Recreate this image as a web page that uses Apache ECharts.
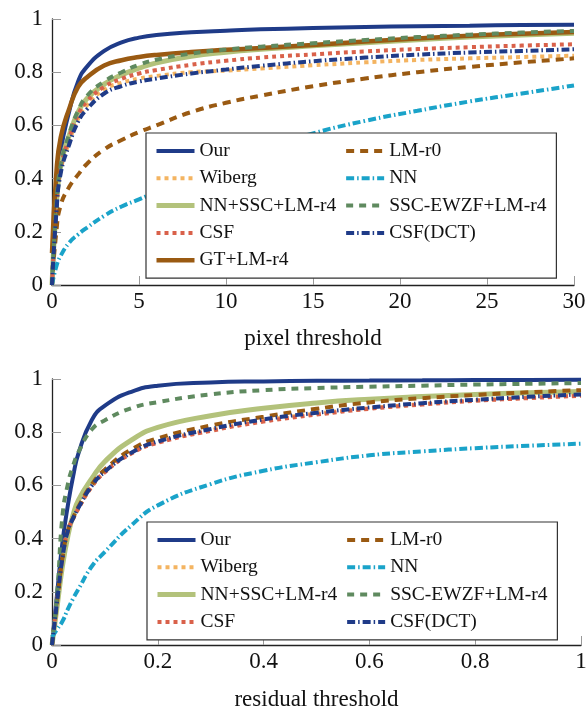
<!DOCTYPE html>
<html><head><meta charset="utf-8">
<script src="https://cdn.jsdelivr.net/npm/echarts@6/dist/echarts.min.js"></script>
<style>html,body{margin:0;padding:0;background:#fff}#c{width:586px;height:710px}</style>
</head><body><div id="c"></div>
<script>
// ---------- data: top chart (pixel threshold) ----------
const pixelX = [0, 0.25, 0.5, 1, 1.5, 2, 3, 4, 5, 6, 8, 10, 12, 15, 18, 21, 24, 27, 30];
const pixOur      = [0, 0.30, 0.50, 0.655, 0.765, 0.82, 0.88, 0.912, 0.93, 0.94, 0.95, 0.956, 0.961, 0.966, 0.97, 0.973, 0.975, 0.977, 0.978];
const pixWiberg   = [0, 0.28, 0.43, 0.54, 0.625, 0.675, 0.735, 0.76, 0.776, 0.786, 0.80, 0.806, 0.814, 0.826, 0.837, 0.846, 0.852, 0.857, 0.862];
const pixNNSSC    = [0, 0.30, 0.45, 0.565, 0.65, 0.70, 0.755, 0.79, 0.815, 0.835, 0.86, 0.875, 0.886, 0.899, 0.911, 0.922, 0.932, 0.94, 0.946];
const pixCSF      = [0, 0.29, 0.44, 0.555, 0.64, 0.69, 0.745, 0.775, 0.795, 0.808, 0.828, 0.843, 0.855, 0.867, 0.878, 0.887, 0.894, 0.90, 0.905];
const pixGT       = [0.12, 0.42, 0.555, 0.665, 0.745, 0.78, 0.825, 0.845, 0.857, 0.865, 0.876, 0.884, 0.891, 0.902, 0.915, 0.927, 0.937, 0.945, 0.951];
const pixLMr0     = [0, 0.20, 0.30, 0.37, 0.415, 0.455, 0.51, 0.545, 0.575, 0.60, 0.65, 0.685, 0.712, 0.747, 0.776, 0.80, 0.82, 0.837, 0.852];
const pixNN       = [0, 0.07, 0.11, 0.16, 0.19, 0.215, 0.26, 0.295, 0.322, 0.35, 0.41, 0.46, 0.51, 0.57, 0.617, 0.655, 0.69, 0.72, 0.75];
const pixSSCEWZF  = [0, 0.30, 0.45, 0.57, 0.655, 0.71, 0.765, 0.80, 0.828, 0.847, 0.87, 0.885, 0.896, 0.909, 0.921, 0.932, 0.941, 0.949, 0.955];
const pixCSFDCT   = [0, 0.27, 0.42, 0.53, 0.614, 0.66, 0.72, 0.748, 0.765, 0.776, 0.795, 0.81, 0.824, 0.841, 0.855, 0.866, 0.874, 0.88, 0.886];

// ---------- data: bottom chart (residual threshold) ----------
const resX = [0, 0.01, 0.02, 0.03, 0.04, 0.05, 0.075, 0.1, 0.15, 0.2, 0.3, 0.4, 0.5, 0.6, 0.7, 0.8, 0.9, 1.0];
const resOur     = [0, 0.20, 0.39, 0.525, 0.635, 0.72, 0.845, 0.90, 0.952, 0.975, 0.987, 0.991, 0.993, 0.994, 0.995, 0.996, 0.996, 0.997];
const resWiberg  = [0, 0.17, 0.33, 0.43, 0.475, 0.514, 0.595, 0.651, 0.722, 0.763, 0.808, 0.844, 0.87, 0.89, 0.906, 0.92, 0.93, 0.94];
const resNNSSC   = [0, 0.15, 0.30, 0.41, 0.49, 0.545, 0.625, 0.69, 0.77, 0.818, 0.862, 0.89, 0.91, 0.924, 0.934, 0.942, 0.948, 0.953];
const resCSF     = [0, 0.17, 0.33, 0.43, 0.475, 0.514, 0.595, 0.65, 0.72, 0.76, 0.805, 0.84, 0.866, 0.888, 0.904, 0.918, 0.928, 0.937];
const resLMr0    = [0, 0.17, 0.33, 0.43, 0.478, 0.52, 0.603, 0.66, 0.735, 0.777, 0.825, 0.858, 0.888, 0.912, 0.928, 0.94, 0.95, 0.958];
const resNN      = [0.03, 0.06, 0.09, 0.135, 0.175, 0.21, 0.295, 0.35, 0.45, 0.525, 0.605, 0.655, 0.687, 0.713, 0.728, 0.74, 0.749, 0.757];
const resSSCEWZF = [0, 0.20, 0.49, 0.605, 0.675, 0.725, 0.81, 0.845, 0.89, 0.913, 0.942, 0.958, 0.966, 0.971, 0.975, 0.979, 0.982, 0.985];
const resCSFDCT  = [0, 0.17, 0.33, 0.43, 0.477, 0.516, 0.598, 0.652, 0.723, 0.765, 0.812, 0.848, 0.873, 0.893, 0.909, 0.922, 0.933, 0.942];

const yTicks = [0, 0.2, 0.4, 0.6, 0.8, 1];

// ---------- styles ----------
const FONT = '"Liberation Serif", "DejaVu Serif", serif';
const styles = {
  'Our':            {color: '#1f3b88', width: 4,   type: 'solid'},
  'Wiberg':         {color: '#f4b461', width: 4,   type: [4, 4]},
  'NN+SSC+LM-r4':   {color: '#b3c27b', width: 5,   type: 'solid'},
  'CSF':            {color: '#d9614a', width: 4,   type: [4, 4]},
  'GT+LM-r4':       {color: '#9a5a12', width: 4.5, type: 'solid'},
  'LM-r0':          {color: '#9a5a12', width: 4,   type: [8, 6]},
  'NN':             {color: '#1aa3c9', width: 4,   type: [8, 3, 1.5, 3]},
  'SSC-EWZF+LM-r4': {color: '#5f8a5f', width: 4,   type: [7, 6]},
  'CSF(DCT)':       {color: '#1f3b88', width: 4,   type: [8, 3, 1.5, 3]}
};

function mk(name, xs, ys, idx) {
  const s = styles[name];
  return {
    name: name, type: 'line', xAxisIndex: idx, yAxisIndex: idx,
    data: xs.map((x, i) => [x, ys[i]]),
    symbol: 'none', showSymbol: false, smooth: 0.5,
    lineStyle: {color: s.color, width: s.width, type: s.type, cap: 'butt'},
    itemStyle: {color: s.color},
    emphasis: {disabled: true}, silent: true
  };
}

const topNames = ['Our', 'Wiberg', 'NN+SSC+LM-r4', 'CSF', 'GT+LM-r4', 'LM-r0', 'NN', 'SSC-EWZF+LM-r4', 'CSF(DCT)'];
const botNames = ['Our', 'Wiberg', 'NN+SSC+LM-r4', 'CSF', 'LM-r0', 'NN', 'SSC-EWZF+LM-r4', 'CSF(DCT)'];
const topData = {'Our': pixOur, 'Wiberg': pixWiberg, 'NN+SSC+LM-r4': pixNNSSC, 'CSF': pixCSF, 'GT+LM-r4': pixGT,
  'LM-r0': pixLMr0, 'NN': pixNN, 'SSC-EWZF+LM-r4': pixSSCEWZF, 'CSF(DCT)': pixCSFDCT};
const botData = {'Our': resOur, 'Wiberg': resWiberg, 'NN+SSC+LM-r4': resNNSSC, 'CSF': resCSF,
  'LM-r0': resLMr0, 'NN': resNN, 'SSC-EWZF+LM-r4': resSSCEWZF, 'CSF(DCT)': resCSFDCT};

const series = [];
topNames.forEach(n => series.push(mk(n, pixelX, topData[n], 0)));
botNames.forEach(n => series.push(mk(n, resX, botData[n], 1)));

function xAxis(idx, max, interval, name, gap) {
  return {
    type: 'value', gridIndex: idx, min: 0, max: max, interval: interval,
    name: name, nameLocation: 'middle', nameGap: gap,
    nameTextStyle: {fontFamily: FONT, fontSize: 23, color: '#111'},
    axisLine: {show: true, onZero: false, lineStyle: {color: '#222', width: 1.3}},
    axisTick: {show: true, inside: true, length: 9, lineStyle: {color: '#999', width: 1}},
    axisLabel: {fontFamily: FONT, fontSize: 23, color: '#111', margin: 5},
    splitLine: {show: false}
  };
}
function yAxis(idx) {
  return {
    type: 'value', gridIndex: idx, min: yTicks[0], max: yTicks[yTicks.length - 1], interval: 0.2,
    axisLine: {show: true, onZero: false, lineStyle: {color: '#222', width: 1.3}},
    axisTick: {show: true, inside: true, length: 9, lineStyle: {color: '#999', width: 1}},
    axisLabel: {fontFamily: FONT, fontSize: 23, color: '#111', margin: 9},
    splitLine: {show: false}
  };
}
function legend(names, left, top, height) {
  return {
    orient: 'vertical', left: left, top: top, height: height,
    itemGap: 7.3, itemWidth: 38, itemHeight: 20,
    padding: [8, 10, 8, 8],
    backgroundColor: '#fff', borderColor: '#333', borderWidth: 1.2,
    textStyle: {fontFamily: FONT, fontSize: 19.5, color: '#111'},
    itemStyle: {opacity: 0}, lineStyle: {width: 'inherit'},
    selectedMode: false,
    data: names
  };
}

const chart = echarts.init(document.getElementById('c'), null, {renderer: 'canvas'});
chart.setOption({
  animation: false,
  backgroundColor: '#fff',
  grid: [
    {left: 52, top: 19, width: 522, height: 266, containLabel: false, outerBoundsMode: 'none'},
    {left: 52, top: 379, width: 529, height: 266, containLabel: false, outerBoundsMode: 'none'}
  ],
  xAxis: [xAxis(0, 30, 5, 'pixel threshold', 42), xAxis(1, 1, 0.2, 'residual threshold', 43)],
  yAxis: [yAxis(0), yAxis(1)],
  legend: [legend(topNames, 146, 133, 135), legend(botNames, 147, 522, 112)],
  series: series
});
</script>
</body></html>
